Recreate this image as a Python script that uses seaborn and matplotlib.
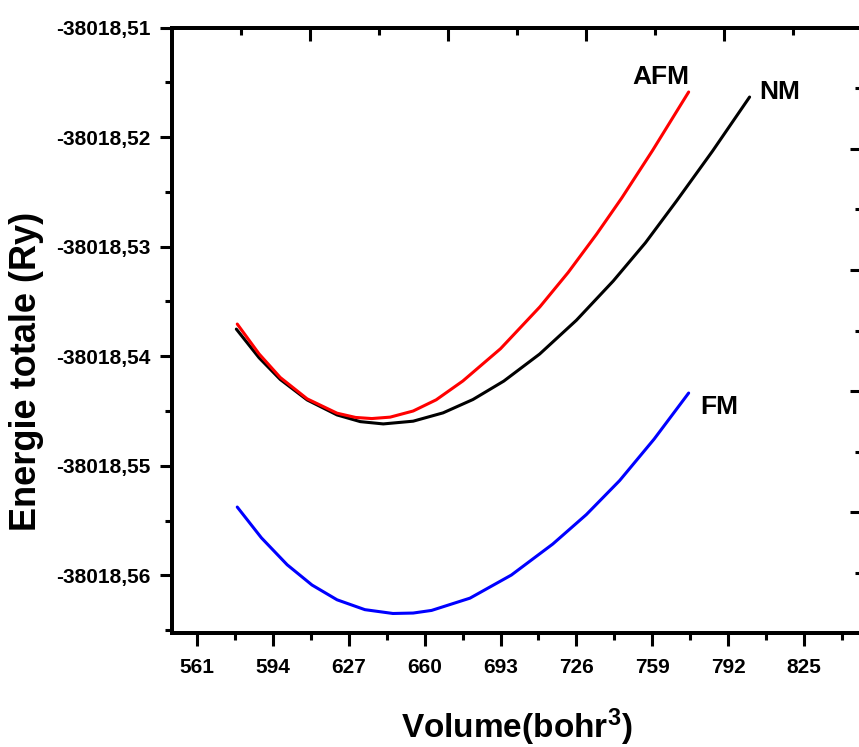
import numpy as np
import pandas as pd
import matplotlib
matplotlib.use("Agg")
import matplotlib.pyplot as plt
import seaborn as sns
from matplotlib.ticker import FixedLocator, FuncFormatter, NullFormatter

# values
vol_nm = [578.1, 588.0, 597.2, 608.9, 621.9, 632.0, 642.0, 655.0, 668.0, 681.0, 694.4,
          710.0, 726.0, 742.0, 756.0, 769.5, 785.2, 801.3]
e_nm = [-38018.53752, -38018.54014, -38018.54212, -38018.54399, -38018.54536, -38018.54597,
        -38018.54618, -38018.54593, -38018.54517, -38018.54395, -38018.54227, -38018.53980,
        -38018.53671, -38018.53313, -38018.52964, -38018.52583, -38018.52126, -38018.51633]

vol_afm = [578.5, 588.0, 597.2, 608.9, 621.9, 630.0, 637.0, 645.0, 655.0, 665.0, 676.6,
           693.0, 710.1, 722.4, 734.8, 745.7, 759.1, 774.8]
e_afm = [-38018.53706, -38018.53979, -38018.54194, -38018.54389, -38018.54520, -38018.54559,
         -38018.54569, -38018.54556, -38018.54500, -38018.54398, -38018.54226, -38018.53931,
         -38018.53549, -38018.53235, -38018.52884, -38018.52555, -38018.52121, -38018.51587]

vol_fm = [578.5, 589.0, 600.2, 611.0, 621.9, 634.0, 646.2, 655.0, 663.0, 679.7, 697.7,
          715.7, 730.3, 744.8, 759.8, 774.8]
e_fm = [-38018.55377, -38018.55658, -38018.55904, -38018.56089, -38018.56224, -38018.56314,
        -38018.56349, -38018.56345, -38018.56321, -38018.56209, -38018.55998, -38018.55715,
        -38018.55446, -38018.55135, -38018.54756, -38018.54336]

x_major = [561, 594, 627, 660, 693, 726, 759, 792, 825]
y_major = [-38018.51, -38018.52, -38018.53, -38018.54, -38018.55, -38018.56]

df = pd.concat([
    pd.DataFrame({"vol": vol_nm, "E": e_nm, "phase": "NM"}),
    pd.DataFrame({"vol": vol_afm, "E": e_afm, "phase": "AFM"}),
    pd.DataFrame({"vol": vol_fm, "E": e_fm, "phase": "FM"}),
])

sns.set_style("white")
plt.rcParams["font.family"] = ["Liberation Sans", "DejaVu Sans"]
plt.rcParams["font.weight"] = "bold"
plt.rcParams["mathtext.default"] = "regular"
for k in ["text.color", "axes.labelcolor", "xtick.color", "ytick.color", "axes.edgecolor"]:
    plt.rcParams[k] = "black"

fig = plt.figure(figsize=(8.59, 7.47), dpi=100)
ax = fig.add_axes([0.1999, 0.1522, 0.8031, 0.8107])

sns.lineplot(data=df, x="vol", y="E", hue="phase", hue_order=["NM", "AFM", "FM"],
             palette={"NM": "black", "AFM": "#ff0000", "FM": "#0000ff"},
             estimator=None, sort=False, linewidth=2.2, legend=False, ax=ax)

ax.set_xlim(550, 850)
ax.set_ylim(-38018.5653, -38018.51)

ax.xaxis.set_major_locator(FixedLocator(x_major))
ax.xaxis.set_minor_locator(FixedLocator([v + 16.5 for v in x_major]))
ax.yaxis.set_major_locator(FixedLocator(y_major))
ax.yaxis.set_minor_locator(FixedLocator([v - 0.005 for v in y_major]))
ax.yaxis.set_major_formatter(FuncFormatter(lambda v, p: ("%.2f" % v).replace(".", ",")))

ax.tick_params(axis="both", which="major", direction="out", length=9, width=2.2,
               labelsize=15, pad=6, top=False, right=False)
ax.tick_params(axis="both", which="minor", direction="out", length=5, width=2.2,
               top=False, right=False)
ax.tick_params(axis="x", which="major", pad=9)
for lab in ax.get_xticklabels() + ax.get_yticklabels():
    lab.set_fontweight("bold")

for s in ax.spines.values():
    s.set_linewidth(2.6)

ax.set_xlabel(r"Volume(bohr$^{3}$)", fontsize=24, fontweight="bold", va="baseline")
ax.xaxis.set_label_coords(0.5, -0.173)
ax.set_ylabel("Energie totale (Ry)", fontsize=26, fontweight="bold")
ax.yaxis.set_label_coords(-0.185, 0.432)

ax.text(762.6, -38018.5145, "AFM", fontsize=19, fontweight="bold", ha="center", va="center")
ax.text(814.3, -38018.5159, "NM", fontsize=19, fontweight="bold", ha="center", va="center")
ax.text(788.0, -38018.5446, "FM", fontsize=19, fontweight="bold", ha="center", va="center")

# extra inward ticks on top and right, as in the original frame
top = ax.twiny()
top.set_xlim(0, 10)
top.xaxis.set_major_locator(FixedLocator([2, 4, 6, 8]))
top.xaxis.set_minor_locator(FixedLocator([1, 3, 5, 7, 9]))
top.xaxis.set_major_formatter(NullFormatter())
top.tick_params(axis="x", which="major", direction="in", length=9, width=2.2)
top.tick_params(axis="x", which="minor", direction="in", length=5, width=2.2)

right = ax.twinx()
right.set_ylim(0, 10)
right.yaxis.set_major_locator(FixedLocator([2, 4, 6, 8]))
right.yaxis.set_minor_locator(FixedLocator([1, 3, 5, 7, 9]))
right.yaxis.set_major_formatter(NullFormatter())
right.tick_params(axis="y", which="major", direction="in", length=9, width=2.2)
right.tick_params(axis="y", which="minor", direction="in", length=5, width=2.2)
for a in (top, right):
    for s in a.spines.values():
        s.set_linewidth(2.6)

fig.savefig("out.png", dpi=100)
